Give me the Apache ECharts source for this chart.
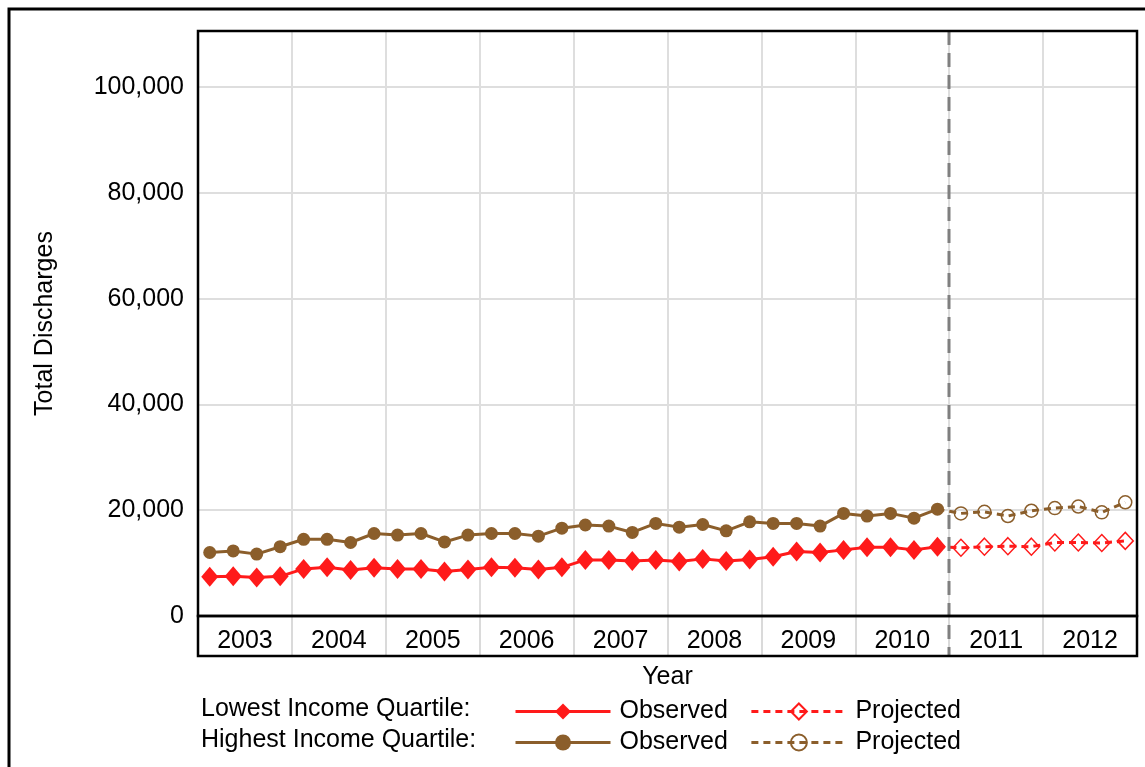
<!DOCTYPE html>
<html>
<head>
<meta charset="utf-8">
<script src="https://cdn.jsdelivr.net/npm/echarts@6/dist/echarts.min.js"></script>
<style>
html,body{margin:0;padding:0;background:#fff;}
#chart{width:1145px;height:767px;}
</style>
</head>
<body>
<div id="chart"></div>
<script>
var years = ['2003','2004','2005','2006','2007','2008','2009','2010','2011','2012'];
var quarterNames = ['Q1','Q2','Q3','Q4'];
var yTicks = [0, 20000, 40000, 60000, 80000, 100000];

// Lowest income quartile, observed 2003Q1-2010Q4
var lowObserved = [
  7400, 7500, 7300, 7500,
  8900, 9200, 8700, 9100,
  8900, 8900, 8400, 8800,
  9200, 9100, 8800, 9200,
  10600, 10600, 10400, 10600,
  10300, 10800, 10400, 10700,
  11200, 12200, 12000, 12500,
  13000, 13000, 12500, 13100
];
// Lowest income quartile, projected 2011Q1-2012Q4
var lowProjected = [12900, 13100, 13200, 13100, 13900, 13900, 13800, 14200];

// Highest income quartile, observed 2003Q1-2010Q4
var highObserved = [
  12000, 12300, 11700, 13100,
  14500, 14500, 13900, 15600,
  15300, 15600, 14000, 15300,
  15600, 15600, 15100, 16600,
  17200, 17000, 15800, 17500,
  16800, 17300, 16100, 17800,
  17500, 17500, 17000, 19400,
  18900, 19400, 18500, 20200
];
// Highest income quartile, projected 2011Q1-2012Q4
var highProjected = [19400, 19700, 18900, 19900, 20400, 20700, 19600, 21500];

var quarters = [];
years.forEach(function (y) { quarterNames.forEach(function (q) { quarters.push(y + ' ' + q); }); });

function projectedData(obs, proj) {
  var d = [];
  for (var i = 0; i < obs.length - 1; i++) d.push(null);
  d.push({ value: obs[obs.length - 1], symbol: 'none' });
  return d.concat(proj);
}

var RED = '#ff1a1a';
var BROWN = '#8b5e2b';
var FONT = 'Liberation Sans, Arial, sans-serif';
var FS = 25;

var GRID = { left: 198, top: 31, width: 939, height: 585 };
var BAND_H = 40;

var chart = echarts.init(document.getElementById('chart'), null, { renderer: 'canvas' });

var legendCommon = {
  left: 509, itemWidth: 95, itemHeight: 20, itemGap: 22,
  formatter: function (n) { return n.split(' ')[1]; },
  textStyle: { fontSize: FS, color: '#000', fontFamily: FONT, padding: [0, 0, 0, 4] },
  lineStyle: { width: 3 },
  selectedMode: false
};

var option = {
  backgroundColor: '#fff',
  animation: false,
  textStyle: { fontFamily: FONT },
  grid: {
    left: GRID.left, top: GRID.top, width: GRID.width, height: GRID.height,
    show: false
  },
  xAxis: [
    {
      type: 'category', data: quarters, boundaryGap: true, show: false
    },
    {
      type: 'category', data: years, boundaryGap: true, position: 'bottom',
      axisLine: { show: false },
      axisTick: { show: true, interval: 0, length: BAND_H, lineStyle: { color: '#dadada', width: 2 } },
      axisLabel: { show: true, interval: 0, margin: 13, fontSize: FS, color: '#000', fontFamily: FONT },
      splitLine: { show: true, interval: 0, lineStyle: { color: '#dedede', width: 2 } },
      name: 'Year', nameLocation: 'middle', nameGap: 49,
      nameTextStyle: { fontSize: FS, color: '#000', fontFamily: FONT }
    }
  ],
  yAxis: {
    type: 'value', min: 0, max: 110600, interval: 20000,
    axisLine: { show: false }, axisTick: { show: false },
    axisLabel: {
      fontSize: FS, color: '#000', fontFamily: FONT, margin: 14,
      formatter: function (v) { return yTicks.indexOf(v) >= 0 ? v.toLocaleString('en-US') : ''; }
    },
    splitLine: { lineStyle: { color: '#dedede', width: 2 } },
    name: 'Total Discharges', nameLocation: 'middle', nameGap: 140,
    nameTextStyle: { fontSize: FS, color: '#000', fontFamily: FONT }
  },
  legend: [
    Object.assign({ data: ['Lowest Observed', 'Lowest Projected'], top: 694 }, legendCommon),
    Object.assign({ data: ['Highest Observed', 'Highest Projected'], top: 725 }, legendCommon)
  ],
  series: [
    {
      name: 'Highest Observed', type: 'line', data: highObserved,
      symbol: 'circle', symbolSize: 13, showAllSymbol: true,
      lineStyle: { color: BROWN, width: 3 },
      itemStyle: { color: BROWN },
      z: 3
    },
    {
      name: 'Highest Projected', type: 'line', data: projectedData(highObserved, highProjected),
      symbol: 'circle', symbolSize: 13, showAllSymbol: true,
      lineStyle: { color: BROWN, width: 3, type: [7, 5] },
      itemStyle: { color: 'rgba(255,255,255,0)', borderColor: BROWN, borderWidth: 1.5 },
      z: 2
    },
    {
      name: 'Lowest Observed', type: 'line', data: lowObserved,
      symbol: 'diamond', symbolSize: [17, 20], showAllSymbol: true,
      lineStyle: { color: RED, width: 3 },
      itemStyle: { color: RED },
      z: 3
    },
    {
      name: 'Lowest Projected', type: 'line', data: projectedData(lowObserved, lowProjected),
      symbol: 'diamond', symbolSize: [16, 17], showAllSymbol: true,
      lineStyle: { color: RED, width: 3, type: [7, 5] },
      itemStyle: { color: 'rgba(255,255,255,0)', borderColor: RED, borderWidth: 1.5 },
      z: 2
    }
  ]
};

chart.setOption(option);

// Frame elements and projection divider, positioned through the chart's own scales
var xA = chart.convertToPixel({ xAxisIndex: 0 }, quarters[lowObserved.length - 1]);
var xB = chart.convertToPixel({ xAxisIndex: 0 }, quarters[lowObserved.length]);
var xDiv = Math.round((xA + xB) / 2);
var yTop = chart.convertToPixel({ yAxisIndex: 0 }, 110600);
var yZero = chart.convertToPixel({ yAxisIndex: 0 }, 0);

chart.setOption({
  graphic: [
    {
      type: 'rect', silent: true, z: 0,
      shape: { x: 9, y: 9, width: 1160, height: 800 },
      style: { fill: 'none', stroke: '#000', lineWidth: 3 }
    },
    {
      type: 'rect', silent: true, z: 10,
      shape: { x: GRID.left, y: GRID.top, width: GRID.width, height: GRID.height },
      style: { fill: 'none', stroke: '#000', lineWidth: 2.5 }
    },
    {
      type: 'rect', silent: true, z: 10,
      shape: { x: GRID.left, y: yZero, width: GRID.width, height: BAND_H },
      style: { fill: 'none', stroke: '#000', lineWidth: 2.5 }
    },
    {
      type: 'line', silent: true, z: 9,
      shape: { x1: xDiv, y1: yTop, x2: xDiv, y2: yZero + BAND_H },
      style: { stroke: '#7f7f7f', lineWidth: 3, lineDash: [14, 8] }
    },
    {
      type: 'text', silent: true, z: 10, left: 201, top: 697,
      style: { text: 'Lowest Income Quartile:', font: FS + 'px ' + FONT, fill: '#000' }
    },
    {
      type: 'text', silent: true, z: 10, left: 201, top: 728,
      style: { text: 'Highest Income Quartile:', font: FS + 'px ' + FONT, fill: '#000' }
    }
  ]
});
</script>
</body>
</html>
